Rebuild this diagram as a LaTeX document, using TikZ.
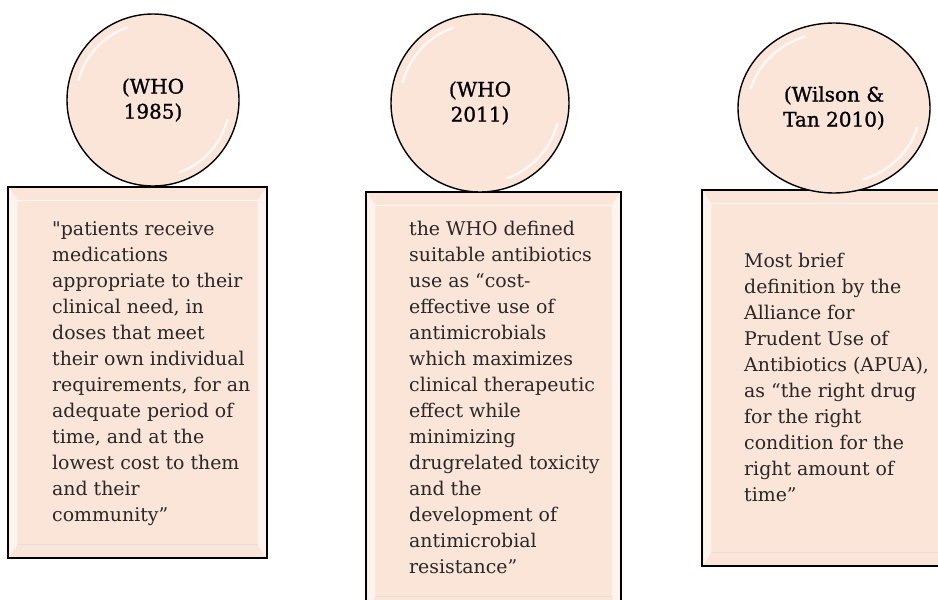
\documentclass[tikz,border=0pt]{standalone}
\usepackage{fontspec}
\setmainfont{DejaVu Serif}
\usetikzlibrary{shapes.geometric,calc}
\definecolor{peach}{RGB}{251,228,216}
\definecolor{bodytext}{RGB}{40,40,40}
\newcommand\bevelrect[1]{%
  \fill[white,opacity=.6] ($(#1.north west)+(2,2)$) -- ($(#1.north west)+(10,14)$) -- ($(#1.south west)+(10,-14)$) -- ($(#1.south west)+(2,-2)$) -- cycle;
  \fill[white,opacity=.6] ($(#1.north east)+(-2,2)$) -- ($(#1.north east)+(-10,14)$) -- ($(#1.south east)+(-10,-14)$) -- ($(#1.south east)+(-2,-2)$) -- cycle;
  \draw[white,opacity=.7,line width=.6pt] ($(#1.north west)+(10,14)$) -- ($(#1.north east)+(-10,14)$);
  \draw[black!15,opacity=.6,line width=.6pt] ($(#1.south west)+(10,-14)$) -- ($(#1.south east)+(-10,-14)$);
}
\begin{document}
\begin{tikzpicture}[x=1pt,y=-1pt,
  panel/.style={draw=black, line width=1.4pt, fill=peach, rectangle, inner sep=0},
  disc/.style={draw=black, line width=1.4pt, fill=peach, circle, inner sep=0, align=center, font=\fontsize{20}{25}\selectfont\addfontfeatures{FakeBold=1.2}},
  oval/.style={draw=black, line width=1.4pt, fill=peach, ellipse, inner sep=0, align=center, font=\fontsize{20}{25}\selectfont\addfontfeatures{FakeBold=1.2}},
  body/.style={anchor=north west, inner sep=0, align=left, font=\fontsize{18.9}{26}\selectfont, text=bodytext},
  shine/.style={white, line width=2.5pt, opacity=.75, line cap=round}
]
\useasboundingbox (0,0) rectangle (938,600);

% panels
\node[panel, minimum width=259, minimum height=371] (r1) at (137.5,372.5) {};
\node[panel, minimum width=255, minimum height=418] (r2) at (493.5,401) {};
\node[panel, minimum width=246, minimum height=376] (r3) at (825,378) {};
\bevelrect{r1}
\bevelrect{r2}
\bevelrect{r3}

% circles
\node[disc, minimum size=172] (c1) at (153,100) {(WHO\\1985)};
\node[disc, minimum size=178] (c2) at (480,103) {(WHO\\2011)};
\node[oval, minimum width=192, minimum height=170] (c3) at (834,108) {(Wilson \&\\Tan 2010)};

\draw[shine] ($(c1.center)+(195:77)$) arc[start angle=195, end angle=250, radius=77];
\draw[shine] ($(c1.center)+(15:77)$) arc[start angle=15, end angle=70, radius=77];
\draw[shine] ($(c2.center)+(195:80)$) arc[start angle=195, end angle=250, radius=80];
\draw[shine] ($(c2.center)+(15:80)$) arc[start angle=15, end angle=70, radius=80];
\draw[shine] ($(c3.center)+({86*cos(195)},{76*sin(195)})$) arc[start angle=195, end angle=250, x radius=86, y radius=76];
\draw[shine] ($(c3.center)+({86*cos(15)},{76*sin(15)})$) arc[start angle=15, end angle=70, x radius=86, y radius=76];

% texts
\node[body] (t1) at (52,221) {\textquotedbl patients receive\\medications\\appropriate to their\\clinical need, in\\doses that meet\\their own individual\\requirements, for an\\adequate period of\\time, and at the\\lowest cost to them\\and their\\community”};
\node[body] (t2) at (409,221) {the WHO defined\\suitable antibiotics\\use as “cost-\\effective use of\\antimicrobials\\which maximizes\\clinical therapeutic\\effect while\\minimizing\\drugrelated toxicity\\and the\\development of\\antimicrobial\\resistance”};
\node[body] (t3) at (744,253) {Most brief\\definition by the\\Alliance for\\Prudent Use of\\Antibiotics (APUA),\\as “the right drug\\for the right\\condition for the\\right amount of\\time”};
\end{tikzpicture}
\end{document}
